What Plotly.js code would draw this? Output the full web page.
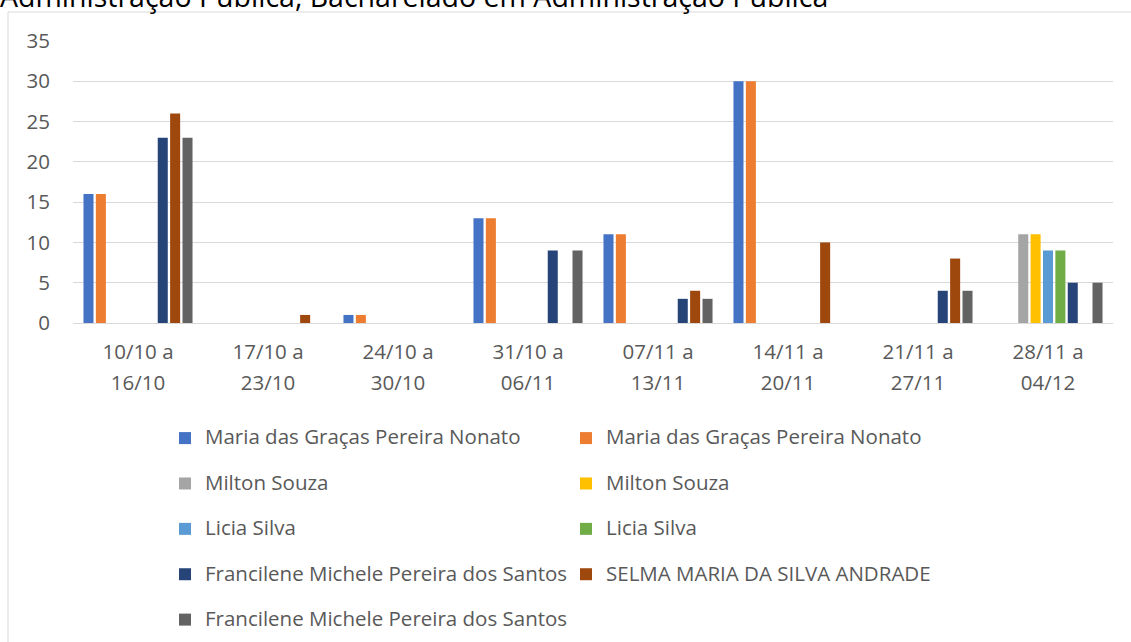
<!DOCTYPE html>
<html>
<head>
<meta charset="utf-8">
<script src="https://cdn.plot.ly/plotly-3.0.1.min.js"></script>
<style>html,body{margin:0;padding:0;background:#fff;}#chart{width:1131px;height:642px;}</style>
</head>
<body>
<div id="chart"></div>
<script>
const categories = ["10/10 a 16/10","17/10 a 23/10","24/10 a 30/10","31/10 a 06/11","07/11 a 13/11","14/11 a 20/11","21/11 a 27/11","28/11 a 04/12"];
const seriesNames = [
  "Maria das Graças Pereira Nonato",
  "Maria das Graças Pereira Nonato",
  "Milton Souza",
  "Milton Souza",
  "Licia Silva",
  "Licia Silva",
  "Francilene Michele Pereira dos Santos",
  "SELMA MARIA DA SILVA ANDRADE",
  "Francilene Michele Pereira dos Santos"
];
const mariaA     = [16, null, 1, 13, 11, 30, null, null];
const mariaB     = [16, null, 1, 13, 11, 30, null, null];
const miltonA    = [null, null, null, null, null, null, null, 11];
const miltonB    = [null, null, null, null, null, null, null, 11];
const liciaA     = [null, null, null, null, null, null, null, 9];
const liciaB     = [null, null, null, null, null, null, null, 9];
const francileneA= [23, null, null, 9, 3, null, 4, 5];
const selma      = [26, 1, null, null, 4, 10, 8, null];
const francileneB= [23, null, null, 9, 3, null, 4, 5];
const seriesValues = [mariaA, mariaB, miltonA, miltonB, liciaA, liciaB, francileneA, selma, francileneB];
const colors = ["#4472C4","#ED7D31","#A5A5A5","#FFC000","#5B9BD5","#70AD47","#264478","#9E480E","#636363"];
const yTicks = [0,5,10,15,20,25,30,35];
const titleText = "Administração Pública, Bacharelado em Administração Pública";

const FONT = "Open Sans, Noto Sans, sans-serif";
const TXT = "#595959";
const FS = 20.5;

const traces = seriesValues.map((vals, i) => ({
  type: "bar",
  x: categories,
  y: vals,
  name: '<span style="font-size:' + FS + 'px">' + seriesNames[i] + '</span><br>\u00a0',
  marker: {color: colors[i], line: {width: 0}},
  hoverinfo: "none"
}));

const ticktext = categories.map(c => {
  const p = c.split(" a ");
  return '<span style="font-size:' + FS + 'px">' + p[0] + ' a</span><br><span style="font-size:' + FS + 'px">' + p[1] + '</span>';
});

const L = 73, R = 18, T = 41, B = 319;
const W = 1131, H = 642;
const pw = W - L - R, ph = H - T - B;
const px = x => (x - L) / pw;
const py = y => 1 + (T - y) / ph;

const layout = {
  width: W, height: H,
  margin: {l: L, r: R, t: T, b: B, autoexpand: false},
  paper_bgcolor: "#ffffff",
  plot_bgcolor: "#ffffff",
  barmode: "group",
  bargap: 0.143,
  bargroupgap: 0.19,
  showlegend: true,
  font: {family: FONT, color: TXT},
  xaxis: {
    type: "category",
    tickvals: categories,
    ticktext: ticktext,
    tickfont: {size: 24, color: TXT, family: FONT},
    showgrid: false,
    zeroline: false,
    showline: false,
    ticks: "",
    ticklabelstandoff: 11,
    fixedrange: true
  },
  yaxis: {
    range: [0, 35],
    tickvals: yTicks,
    tickfont: {size: FS, color: TXT, family: FONT},
    showgrid: true,
    gridcolor: "#D9D9D9",
    gridwidth: 1,
    zeroline: true,
    zerolinecolor: "#D9D9D9",
    zerolinewidth: 1,
    showline: false,
    ticks: "",
    ticklabelstandoff: 22,
    fixedrange: true
  },
  legend: {
    orientation: "h",
    x: px(165), xanchor: "left",
    y: py(421), yanchor: "top",
    traceorder: "normal",
    valign: "top",
    entrywidth: 356,
    entrywidthmode: "pixels",
    font: {size: 16.3, color: TXT, family: FONT},
    bgcolor: "rgba(0,0,0,0)",
    itemclick: false, itemdoubleclick: false
  },
  annotations: [{
    xref: "paper", yref: "paper",
    x: px(-2), y: py(17),
    xanchor: "left", yanchor: "bottom",
    text: titleText,
    showarrow: false,
    font: {size: 28.5, color: "#000000", family: FONT}
  }],
  shapes: [{
    type: "path", xref: "paper", yref: "paper",
    path: "M " + px(8) + " " + py(700) + " L " + px(8) + " " + py(12) + " L " + px(1200) + " " + py(12),
    line: {color: "#D9D9D9", width: 1}
  }]
};

Plotly.newPlot("chart", traces, layout, {staticPlot: true, displayModeBar: false});
</script>
</body>
</html>
